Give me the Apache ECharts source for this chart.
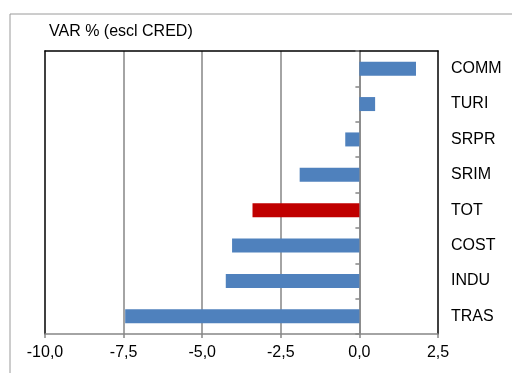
<!DOCTYPE html>
<html>
<head>
<meta charset="utf-8">
<script src="https://cdn.jsdelivr.net/npm/echarts@6/dist/echarts.min.js"></script>
<style>
  html, body { margin: 0; padding: 0; background: #fff; }
  #chart { width: 512px; height: 373px; }
</style>
</head>
<body>
<div id="chart"></div>
<script>
// Sectors, listed from top to bottom
const categories = ['COMM', 'TURI', 'SRPR', 'SRIM', 'TOT', 'COST', 'INDU', 'TRAS'];
// Percentage change, excluding credit
const values = [1.8, 0.5, -0.45, -1.9, -3.4, -4.05, -4.25, -7.45];
// The aggregate row gets its own colour
const highlight = 'TOT';
const chartTitle = 'VAR % (escl CRED)';

const font = '"Liberation Sans", Arial, sans-serif';
const grey = '#868686';
const chart = echarts.init(document.getElementById('chart'), null, { renderer: 'canvas' });

// Plain black frame line used for the top, left and right edges of the plot
const frameLine = { show: true, onZero: false, lineStyle: { color: '#000', width: 1.5 } };

chart.setOption({
  animation: false,
  backgroundColor: '#fff',
  textStyle: { fontFamily: font },
  title: {
    text: chartTitle,
    left: 44,
    top: 19,
    textStyle: { fontFamily: font, fontSize: 16, fontWeight: 'normal', color: '#000' }
  },
  graphic: [{
    type: 'rect',
    shape: { x: 10, y: 14, width: 600, height: 500 },
    style: { fill: 'none', stroke: '#9a9a9a', lineWidth: 1 },
    z: -10
  }],
  grid: { left: 45, right: 74, top: 51, bottom: 39 },
  xAxis: [{
    type: 'value',
    min: -10,
    max: 2.5,
    interval: 2.5,
    position: 'bottom',
    axisLine: { show: true, onZero: false, lineStyle: { color: grey, width: 1.5 } },
    axisTick: { show: true, length: 4, lineStyle: { color: grey, width: 1.5 } },
    splitLine: { show: true, showMinLine: false, showMaxLine: false, lineStyle: { color: grey, width: 1.5 } },
    axisLabel: {
      color: '#000', fontSize: 16, fontFamily: font, margin: 11,
      formatter: v => v.toFixed(1).replace('.', ',')
    }
  }, {
    type: 'value',
    min: -10,
    max: 2.5,
    interval: 2.5,
    position: 'top',
    axisLine: frameLine,
    axisTick: { show: false },
    splitLine: { show: false },
    axisLabel: { show: false }
  }],
  yAxis: [{
    type: 'category',
    data: categories,
    inverse: true,
    position: 'left',
    axisLine: { show: true, onZero: true, lineStyle: { color: grey, width: 1.5 } },
    axisTick: { show: true, length: 4, lineStyle: { color: grey, width: 1.5 } },
    axisLabel: { show: false }
  }, {
    type: 'category',
    data: categories,
    inverse: true,
    position: 'right',
    axisLine: frameLine,
    axisTick: { show: false },
    axisLabel: { color: '#000', fontSize: 16, fontFamily: font, margin: 13 }
  }, {
    type: 'category',
    data: categories,
    inverse: true,
    position: 'left',
    offset: 0,
    axisLine: frameLine,
    axisTick: { show: false },
    axisLabel: { show: false }
  }],
  series: [{
    type: 'bar',
    xAxisIndex: 0,
    yAxisIndex: 0,
    barWidth: 14,
    data: values.map((v, i) => ({
      value: v,
      itemStyle: { color: categories[i] === highlight ? '#C00000' : '#4F81BD' }
    }))
  }]
});
</script>
</body>
</html>
